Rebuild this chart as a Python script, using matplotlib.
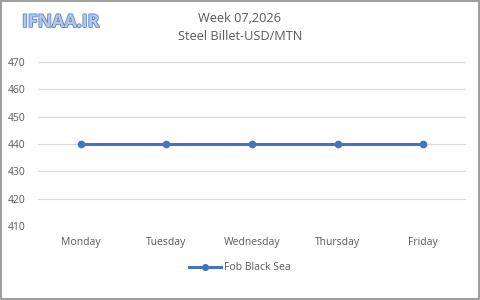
import matplotlib
matplotlib.use("Agg")
import matplotlib.pyplot as plt
import matplotlib.patheffects as pe
from matplotlib.patches import Rectangle

days = ["Monday", "Tuesday", "Wednesday", "Thursday", "Friday"]
prices = [440, 440, 440, 440, 440]
series_name = "Fob Black Sea"
yticks = [410, 420, 430, 440, 450, 460, 470]
title = "Week 07,2026\nSteel Billet-USD/MTN"

plt.rcParams['font.family'] = ['Open Sans', 'DejaVu Sans']
text_color = "#595959"

fig = plt.figure(figsize=(4.8, 3.0), dpi=100)
ax = fig.add_axes([38/480, 1-226/300, (466-38)/480, (226-62)/300])

x = range(len(days))
ax.plot(x, prices, color="#4472C4", lw=2.2, marker="o", ms=4.5, label=series_name)
ax.set_xlim(-0.5, len(days)-0.5)
ax.set_ylim(yticks[0], yticks[-1])
ax.set_yticks(yticks)
ax.set_xticks(list(x))
ax.set_xticklabels(days)
ax.grid(axis="y", color="#D9D9D9", lw=0.8)
ax.set_axisbelow(True)
for s in ax.spines.values():
    s.set_visible(False)
ax.tick_params(length=0, labelsize=7.5, colors=text_color)
ax.tick_params(axis="y", pad=9)
ax.tick_params(axis="x", pad=8)

fig.text(0.5, 1-27.5/300, title, ha="center", va="center", fontsize=9.2, color=text_color, linespacing=1.5)

fig.text(22/480, 1-22/300, "IFNAA.IR", ha="left", va="center", fontsize=12.8, fontweight="bold",
         color="#B4C7E7", path_effects=[pe.withStroke(linewidth=1.2, foreground="#5B83C9")])

leg = fig.legend(loc="center", bbox_to_anchor=(0.5, 1-268/300), frameon=False, fontsize=7.5,
                 handlelength=3, handletextpad=0.3, labelcolor=text_color, markerscale=0.9)

fig.add_artist(Rectangle((0.002, 0.003), 0.996, 0.994, transform=fig.transFigure, fill=False,
                         edgecolor="#8C8C8C", lw=1.2))

fig.savefig("out.png", dpi=100)
